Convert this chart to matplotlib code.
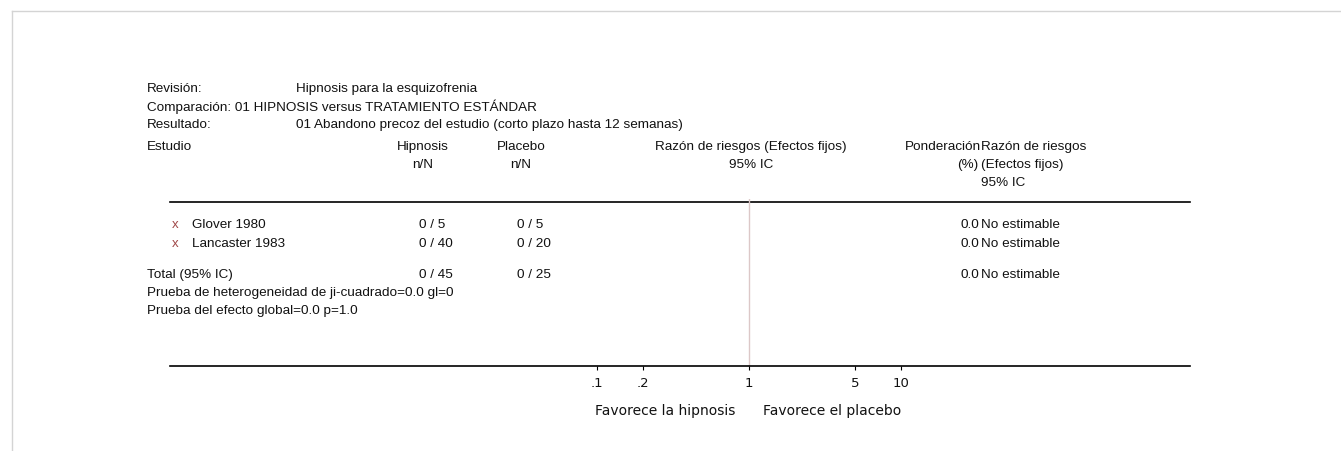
"""
Forest plot: Hipnosis para la esquizofrenia
"""
import numpy as np
from matplotlib import pyplot as plt

plt.rcParams['font.family'] = ['Liberation Sans', 'DejaVu Sans']

# datos
estudios = ['Glover 1980', 'Lancaster 1983']
hip_n = [0, 0]
hip_N = [5, 40]
pla_n = [0, 0]
pla_N = [5, 20]
ponderacion = [0.0, 0.0]
total_hip = (0, 45)
total_pla = (0, 25)
total_pond = 0.0
ticks = [0.1, 0.2, 1, 5, 10]
tick_labels = ['.1', '.2', '1', '5', '10']

W, H = 1341, 452
fig = plt.figure(figsize=(W / 100, H / 100), dpi=100)
base = fig.add_axes([0, 0, 1, 1])
base.set_xlim(0, W)
base.set_ylim(H, 0)
base.axis('off')

# marco gris
base.plot([12, W], [12, 12], color='#d4d4d4', lw=1)
base.plot([12, 12], [12, H], color='#d4d4d4', lw=1)

fs = 9.7


def txt(x, y, s, ha='left', **kw):
    kw.setdefault('fontsize', fs)
    base.text(x, y, s, ha=ha, va='center', color='#111111', **kw)


# cabecera
txt(147, 89, 'Revisión:')
txt(296, 89, 'Hipnosis para la esquizofrenia')
txt(147, 107, 'Comparación: 01 HIPNOSIS versus TRATAMIENTO ESTÁNDAR')
txt(147, 125, 'Resultado:')
txt(296, 125, '01 Abandono precoz del estudio (corto plazo hasta 12 semanas)')

txt(147, 147, 'Estudio')
txt(423, 147, 'Hipnosis', ha='center')
txt(423, 165, 'n/N', ha='center')
txt(521, 147, 'Placebo', ha='center')
txt(521, 165, 'n/N', ha='center')
txt(751, 147, 'Razón de riesgos (Efectos fijos)', ha='center')
txt(751, 165, '95% IC', ha='center')
txt(981, 147, 'Ponderación', ha='right')
txt(978, 165, '(%)', ha='right')
txt(981, 147, 'Razón de riesgos')
txt(981, 165, '(Efectos fijos)')
txt(981, 183, '95% IC')

base.plot([170, 1190], [203, 203], color='black', lw=1.2)

ys = [225, 244]
for i, est in enumerate(estudios):
    y = ys[i]
    base.text(175, y, 'x', ha='center', va='center', fontsize=9.5, color='#a04848')
    txt(192, y, est)
    txt(419, y, '%d / %d' % (hip_n[i], hip_N[i]))
    txt(517, y, '%d / %d' % (pla_n[i], pla_N[i]))
    txt(979, y, '%.1f' % ponderacion[i], ha='right')
    txt(981, y, 'No estimable')

txt(147, 275, 'Total (95% IC)')
txt(419, 275, '%d / %d' % total_hip)
txt(517, 275, '%d / %d' % total_pla)
txt(979, 275, '%.1f' % total_pond, ha='right')
txt(981, 275, 'No estimable')
txt(147, 293, 'Prueba de heterogeneidad de ji-cuadrado=0.0 gl=0')
txt(147, 311, 'Prueba del efecto global=0.0 p=1.0')

# eje del forest plot
x0, x1, y_top, y_ax = 170, 1190, 200, 367
ax = fig.add_axes([x0 / W, (H - y_ax) / H, (x1 - x0) / W, (y_ax - y_top) / H])
ax.set_xscale('log')
ppd = 152.0
ax.set_xlim(10 ** ((x0 - 749) / ppd), 10 ** ((x1 - 749) / ppd))
ax.set_ylim(0, 1)
ax.patch.set_alpha(0)
for s in ['top', 'left', 'right']:
    ax.spines[s].set_visible(False)
ax.spines['bottom'].set_linewidth(1.2)
ax.set_yticks([])
ax.xaxis.set_minor_locator(plt.NullLocator())
ax.set_xticks(ticks)
ax.set_xticklabels(tick_labels, fontsize=9.5, color='#111111', family='DejaVu Sans')
ax.tick_params(axis='x', direction='out', length=3, width=0.8, pad=4)
ax.axvline(1, color='#dcc8c8', lw=1)

# etiquetas inferiores, algo más espaciadas
txt(735, 411, 'Favorece la hipnosis', ha='right', fontsize=10, family='DejaVu Sans')
txt(763, 411, 'Favorece el placebo', fontsize=10, family='DejaVu Sans')

fig.savefig('out.png', dpi=100)
